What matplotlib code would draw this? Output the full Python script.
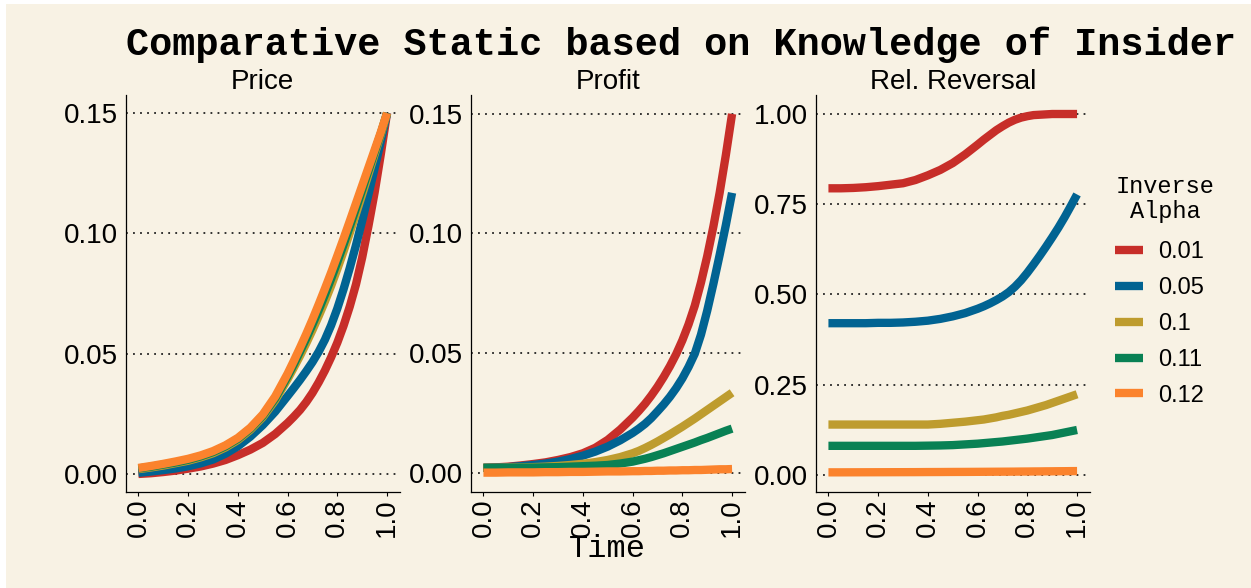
import matplotlib
matplotlib.use("Agg")
import matplotlib.pyplot as plt
from matplotlib.lines import Line2D
from matplotlib.patches import Rectangle

# ---------------- data ----------------
time = [0.00, 0.05, 0.10, 0.15, 0.20, 0.25, 0.30, 0.35, 0.40, 0.45, 0.50, 0.55, 0.60,
        0.625, 0.65, 0.675, 0.70, 0.725, 0.75, 0.775, 0.80, 0.825, 0.85, 0.875, 0.90,
        0.925, 0.95, 0.975, 1.00]

alpha_labels = ["0.01", "0.05", "0.1", "0.11", "0.12"]

price_001 = [0.0000, 0.0003, 0.0008, 0.0014, 0.0022, 0.0031, 0.0043, 0.0058, 0.0078, 0.0101, 0.0129, 0.0166, 0.0212,
             0.0238, 0.0266, 0.0299, 0.0337, 0.0381, 0.0430, 0.0485, 0.0546, 0.0616, 0.0696, 0.0788, 0.0900,
             0.1030, 0.1170, 0.1330, 0.1500]
price_005 = [0.0005, 0.0010, 0.0016, 0.0023, 0.0032, 0.0044, 0.0060, 0.0084, 0.0115, 0.0155, 0.0203, 0.0259, 0.0324,
             0.0357, 0.0391, 0.0427, 0.0465, 0.0508, 0.0558, 0.0618, 0.0688, 0.0768, 0.0856, 0.0951, 0.1053,
             0.1161, 0.1271, 0.1383, 0.1500]
price_010 = [0.0020, 0.0027, 0.0035, 0.0045, 0.0055, 0.0069, 0.0086, 0.0110, 0.0141, 0.0183, 0.0236, 0.0306, 0.0394,
             0.0442, 0.0491, 0.0543, 0.0598, 0.0656, 0.0717, 0.0782, 0.0852, 0.0925, 0.1002, 0.1081, 0.1162,
             0.1245, 0.1328, 0.1411, 0.1500]
price_011 = [0.0023, 0.0030, 0.0039, 0.0048, 0.0059, 0.0073, 0.0091, 0.0115, 0.0146, 0.0188, 0.0242, 0.0314, 0.0406,
             0.0456, 0.0509, 0.0563, 0.0621, 0.0681, 0.0745, 0.0811, 0.0881, 0.0953, 0.1028, 0.1104, 0.1181,
             0.1260, 0.1338, 0.1416, 0.1500]
price_012 = [0.0025, 0.0033, 0.0042, 0.0052, 0.0063, 0.0077, 0.0095, 0.0119, 0.0150, 0.0192, 0.0247, 0.0322, 0.0417,
             0.0470, 0.0525, 0.0582, 0.0642, 0.0705, 0.0770, 0.0837, 0.0907, 0.0978, 0.1051, 0.1125, 0.1199,
             0.1273, 0.1347, 0.1421, 0.1500]

profit_001 = [0.0020, 0.0022, 0.0025, 0.0030, 0.0036, 0.0043, 0.0053, 0.0065, 0.0081, 0.0104, 0.0137, 0.0180, 0.0230,
              0.0258, 0.0288, 0.0322, 0.0359, 0.0400, 0.0445, 0.0495, 0.0553, 0.0620, 0.0698, 0.0795, 0.0905,
              0.1030, 0.1170, 0.1328, 0.1500]
profit_005 = [0.0020, 0.0021, 0.0023, 0.0027, 0.0032, 0.0038, 0.0046, 0.0057, 0.0071, 0.0088, 0.0109, 0.0135, 0.0166,
              0.0184, 0.0204, 0.0228, 0.0256, 0.0285, 0.0317, 0.0353, 0.0394, 0.0442, 0.0497, 0.0577, 0.0677,
              0.0790, 0.0910, 0.1035, 0.1170]
profit_010 = [0.0020, 0.0020, 0.0021, 0.0022, 0.0023, 0.0025, 0.0028, 0.0032, 0.0037, 0.0044, 0.0053, 0.0065, 0.0081,
              0.0091, 0.0103, 0.0116, 0.0130, 0.0145, 0.0160, 0.0176, 0.0192, 0.0209, 0.0226, 0.0244, 0.0262,
              0.0280, 0.0298, 0.0316, 0.0334]
profit_011 = [0.0020, 0.0020, 0.0020, 0.0021, 0.0021, 0.0022, 0.0023, 0.0025, 0.0027, 0.0029, 0.0032, 0.0038, 0.0046,
              0.0052, 0.0058, 0.0065, 0.0073, 0.0081, 0.0090, 0.0099, 0.0108, 0.0117, 0.0126, 0.0136, 0.0145,
              0.0155, 0.0165, 0.0175, 0.0184]
profit_012 = [0.0000, 0.0000, 0.0001, 0.0001, 0.0001, 0.0002, 0.0002, 0.0003, 0.0003, 0.0004, 0.0005, 0.0005, 0.0006,
              0.0006, 0.0007, 0.0007, 0.0008, 0.0008, 0.0009, 0.0009, 0.0010, 0.0010, 0.0011, 0.0011, 0.0012,
              0.0013, 0.0014, 0.0014, 0.0015]

rev_001 = [0.794, 0.794, 0.795, 0.797, 0.800, 0.804, 0.808, 0.817, 0.830, 0.845, 0.864, 0.888, 0.915,
           0.929, 0.942, 0.955, 0.966, 0.976, 0.984, 0.990, 0.994, 0.997, 0.998, 0.999, 1.000,
           1.000, 1.000, 1.000, 1.000]
rev_005 = [0.420, 0.420, 0.420, 0.420, 0.421, 0.421, 0.422, 0.424, 0.427, 0.432, 0.439, 0.448, 0.460,
           0.467, 0.475, 0.484, 0.494, 0.506, 0.521, 0.539, 0.560, 0.583, 0.607, 0.632, 0.658,
           0.685, 0.714, 0.745, 0.777]
rev_010 = [0.139, 0.139, 0.139, 0.139, 0.139, 0.139, 0.139, 0.139, 0.139, 0.141, 0.144, 0.147, 0.151,
           0.153, 0.156, 0.159, 0.163, 0.166, 0.170, 0.174, 0.178, 0.183, 0.188, 0.193, 0.199,
           0.205, 0.211, 0.217, 0.223]
rev_011 = [0.080, 0.080, 0.080, 0.080, 0.080, 0.080, 0.080, 0.080, 0.0805, 0.081, 0.082, 0.084, 0.086,
           0.0875, 0.089, 0.0905, 0.092, 0.094, 0.096, 0.098, 0.100, 0.1025, 0.105, 0.1075, 0.110,
           0.1135, 0.117, 0.1205, 0.124]
rev_012 = [0.0065, 0.0065, 0.0066, 0.0067, 0.0068, 0.0069, 0.0070, 0.0071, 0.0073, 0.0074, 0.0076, 0.0077, 0.0079,
           0.0080, 0.0081, 0.0082, 0.0083, 0.0084, 0.0085, 0.0087, 0.0088, 0.0090, 0.0091, 0.0093, 0.0094,
           0.0096, 0.0097, 0.0099, 0.0100]

panel_titles = ["Price", "Profit", "Rel. Reversal"]
x_ticks = [0.0, 0.2, 0.4, 0.6, 0.8, 1.0]
x_ticklabels = ["0.0", "0.2", "0.4", "0.6", "0.8", "1.0"]
y_ticks = [[0.00, 0.05, 0.10, 0.15], [0.00, 0.05, 0.10, 0.15], [0.00, 0.25, 0.50, 0.75, 1.00]]
y_ticklabels = [["0.00", "0.05", "0.10", "0.15"], ["0.00", "0.05", "0.10", "0.15"],
                ["0.00", "0.25", "0.50", "0.75", "1.00"]]

panels = [
    [price_001, price_005, price_010, price_011, price_012],
    [profit_001, profit_005, profit_010, profit_011, profit_012],
    [rev_001, rev_005, rev_010, rev_011, rev_012],
]

# ---------------- style ----------------
BG = "#f8f2e4"
colors = ["#c72e29", "#016392", "#be9c2e", "#098154", "#fb832d"]
SANS = "Liberation Sans"
MONO = "Liberation Mono"
LW = 6.0

W, H = 1251, 588
fig = plt.figure(figsize=(W / 100, H / 100), dpi=100, facecolor="white")

def fx(px):
    return px / W

def fy(py):
    return 1 - py / H

# beige plot background (thin white strip on the left and top, as in the reference)
fig.patches.append(Rectangle((fx(6), 0), 1 - fx(6), fy(4), transform=fig.transFigure,
                             facecolor=BG, edgecolor="none", zorder=-10))

panel_lefts = [126, 471, 816]
panel_w = 273.5
top_px, bot_px = 95, 492
ylims = [(-0.0075, 0.1575), (-0.0081, 0.1579), (-0.048, 1.0527)]

for i in range(3):
    ax = fig.add_axes([fx(panel_lefts[i]), fy(bot_px), fx(panel_w), (bot_px - top_px) / H])
    ax.set_facecolor(BG)
    for j, series in enumerate(panels[i]):
        ax.plot(time, series, color=colors[j], lw=LW, solid_capstyle="butt",
                solid_joinstyle="round", label=alpha_labels[j], zorder=3 + j)
    ax.set_xlim(-0.05, 1.05)
    ax.set_ylim(*ylims[i])
    ax.set_xticks(x_ticks)
    ax.set_xticklabels(x_ticklabels, rotation=90, fontfamily=SANS, fontsize=20)
    ax.set_yticks(y_ticks[i])
    ax.set_yticklabels(y_ticklabels[i], fontfamily=SANS, fontsize=20)
    ax.tick_params(axis="x", direction="out", length=3, width=0.8, pad=1.5, color="black")
    ax.tick_params(axis="y", length=0, pad=5.8)
    for lab in ax.get_xticklabels():
        lab.set_verticalalignment("top")
        lab.set_horizontalalignment("center")
    for side in ["top", "right"]:
        ax.spines[side].set_visible(False)
    for side in ["left", "bottom"]:
        ax.spines[side].set_color("black")
        ax.spines[side].set_linewidth(0.9)
    ax.yaxis.grid(True, color="#222222", linestyle=(0, (1, 2.9)), linewidth=1.3, zorder=1)
    ax.xaxis.grid(False)
    ax.set_axisbelow(True)
    ax.set_title(panel_titles[i], fontfamily=SANS, fontsize=20, pad=1.5)

fig.text(fx(126), fy(55), "Comparative Static based on Knowledge of Insider",
         fontfamily=MONO, fontweight="bold", fontsize=27.7, ha="left", va="baseline")
fig.text(fx(607), fy(557), "Time", fontfamily=MONO, fontsize=23, ha="center", va="baseline")

# legend: title lines as text, entries via legend
fig.text(fx(1165), fy(193), "Inverse", fontfamily=MONO, fontsize=17, ha="center", va="baseline")
fig.text(fx(1165), fy(218), "Alpha", fontfamily=MONO, fontsize=17, ha="center", va="baseline")
handles = [Line2D([0], [0], color=c, lw=LW, solid_capstyle="butt") for c in colors]
leg = fig.legend(handles, alpha_labels,
                 loc="upper left", bbox_to_anchor=(fx(1115), fy(241.5)),
                 frameon=False, prop={"family": SANS, "size": 17},
                 handlelength=1.2, handletextpad=0.62, labelspacing=0.585,
                 borderpad=0, borderaxespad=0)

fig.savefig("out.png", dpi=100, facecolor="white")
